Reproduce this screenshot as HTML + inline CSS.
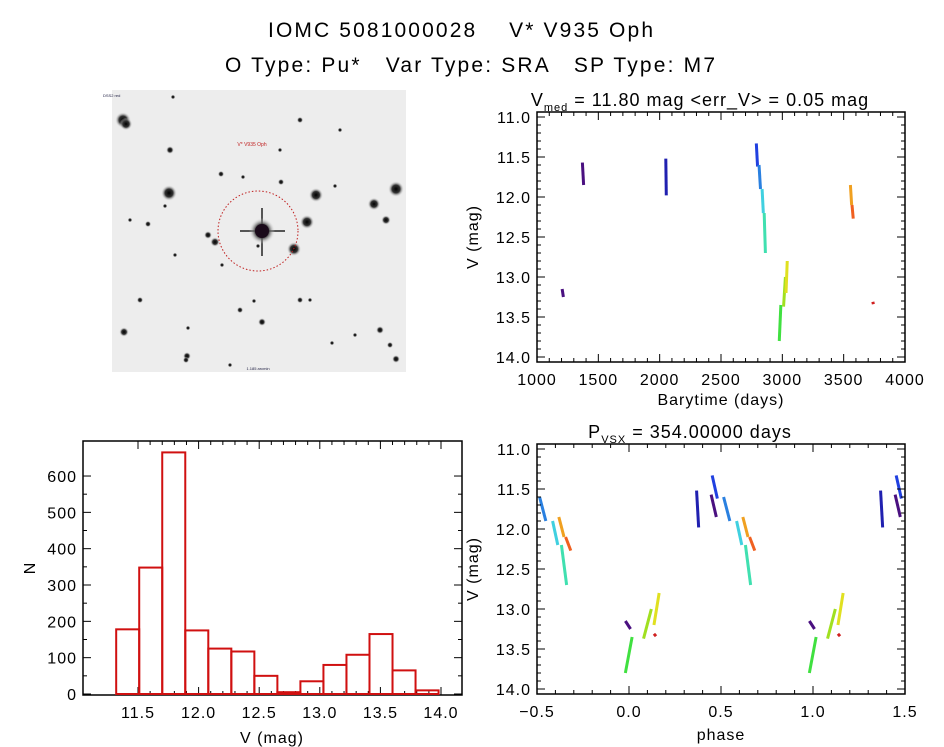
<!DOCTYPE html>
<html><head><meta charset="utf-8"><style>
body{margin:0;background:#fff;}
svg{display:block;font-family:"Liberation Sans",sans-serif;}
</style></head><body>
<svg id="root" width="944" height="747" viewBox="0 0 944 747" xmlns="http://www.w3.org/2000/svg">
<defs>
<radialGradient id="sg"><stop offset="0" stop-color="#000"/><stop offset="0.5" stop-color="#333"/><stop offset="1" stop-color="#eee" stop-opacity="0"/></radialGradient>
</defs>
<text x="268" y="37" font-size="21" textLength="385" lengthAdjust="spacing" xml:space="preserve">IOMC 5081000028    V* V935 Oph</text>
<text x="225" y="72" font-size="21" textLength="490" lengthAdjust="spacing" xml:space="preserve">O Type: Pu*   Var Type: SRA   SP Type: M7</text>
<g id="img">
<rect x="112" y="90" width="294" height="282" fill="#ededed"/>
</g>
<g id="lc"></g>
<g id="ph"></g>
<g id="hist"></g>
</svg>
<script>
// ---- data ----
const clusterT1 = [1205,1370,2050,2788,2810,2835,2852,2975,3010,3030,3555,3568,3738];
const clusterT2 = [1215,1380,2054,2798,2822,2845,2862,2988,3025,3040,3565,3578,3742];
const clusterM1 = [13.15,11.57,11.52,11.33,11.60,11.90,12.20,13.80,13.37,13.20,11.85,12.10,13.31];
const clusterM2 = [13.25,11.85,11.98,11.62,11.90,12.20,12.70,13.35,13.00,12.80,12.10,12.27,13.34];
const period = 354.0;
const epoch = 1920.0;
const histEdges0 = 11.32, histWidth = 0.19;
const histCounts = [178,348,665,175,125,117,50,5,35,80,108,165,65,10];
const lcXTicks = [1000,1500,2000,2500,3000,3500,4000];
const magTicks = [11.0,11.5,12.0,12.5,13.0,13.5,14.0];
const phTicks = [-0.5,0.0,0.5,1.0,1.5];
const histXTicks = [11.5,12.0,12.5,13.0,13.5,14.0];
const histYTicks = [0,100,200,300,400,500,600];
const clusterColors = ['#4a1080','#4a1080','#2020b0','#2040e0','#2a80e0','#40d0e0','#40e0b0','#40e040','#a0e020','#e0e020','#f0a020','#f06020','#d02020'];

const NS='http://www.w3.org/2000/svg';
function el(tag,attrs,parent){const e=document.createElementNS(NS,tag);for(const k in attrs)e.setAttribute(k,attrs[k]);parent.appendChild(e);return e;}

// ---- sky image ----
const img=document.getElementById('img');
const stars=[[123,120,5],[126,124,4],[169,193,5],[170,150,2.5],[221,174,2],[215,242,3],[208,235,2.5],[307,222,4.5],[316,195,4.5],[396,189,5],[374,204,4],[386,220,3],[294,249,4.5],[124,332,3],[187,356,2.5],[186,360,2],[262,322,2.5],[300,300,2],[380,330,2.5],[396,359,2.5],[173,97,1.5],[148,224,2],[243,177,1.5],[281,182,2],[335,186,1.5],[258,246,1.5],[165,206,1.5],[240,310,2],[254,301,1.5],[332,343,1.5],[188,328,1.5],[300,120,2],[340,130,1.5],[280,150,1.5],[310,300,1.5],[140,300,2],[355,335,1.5],[230,365,1.5],[390,345,2],[222,265,1.5],[175,255,1.5],[130,220,1.5]];
stars.forEach(s=>{const c=el('circle',{cx:s[0],cy:s[1],r:s[2]*1.6,fill:'url(#sg)'},img);

});
el('line',{x1:262,y1:208,x2:262,y2:256,stroke:'#555','stroke-width':2},img);
el('line',{x1:240,y1:231,x2:285,y2:231,stroke:'#555','stroke-width':2},img);
const tgt=el('circle',{cx:262,cy:231,r:13,fill:'url(#sg)'},img);


el('circle',{cx:262,cy:231,r:7,fill:'#1a0a1a'},img);
const ring=el('circle',{cx:258,cy:231,r:40,fill:'none',stroke:'#c02020','stroke-width':1,'stroke-dasharray':'1.5 2'},img);


el('text',{x:252,y:146,'font-size':5,fill:'#c02020','text-anchor':'middle'},img).textContent='V* V935 Oph';
el('text',{x:103,y:97,'font-size':4,fill:'#224'},img).textContent='DSS2 red';
el('text',{x:258,y:370,'font-size':4,fill:'#224','text-anchor':'middle'},img).textContent='1.185 arcmin';

// ---- generic axes ----
function axes(g,x0,x1,y0,y1,xs,ys,xt,yt,xminor,yminor,xfmt,yfmt){
  el('rect',{x:x0,y:y0,width:x1-x0,height:y1-y0,fill:'none',stroke:'#000','stroke-width':1.5},g);
  xt.forEach(v=>{const x=xs(v);
    el('line',{x1:x,y1:y1,x2:x,y2:y1-8,stroke:'#000'},g);el('line',{x1:x,y1:y0,x2:x,y2:y0+8,stroke:'#000'},g);
    const t=el('text',{x:x,y:y1+23,'text-anchor':'middle','font-size':16,'letter-spacing':1},g);t.textContent=xfmt(v);
    
    });
  for(let i=0;i<xt.length-1;i++)for(let k=1;k<xminor;k++){const x=xs(xt[i]+(xt[i+1]-xt[i])*k/xminor);
    el('line',{x1:x,y1:y1,x2:x,y2:y1-4,stroke:'#000'},g);el('line',{x1:x,y1:y0,x2:x,y2:y0+4,stroke:'#000'},g);}
  yt.forEach(v=>{const y=ys(v);
    el('line',{x1:x0,y1:y,x2:x0+8,y2:y,stroke:'#000'},g);el('line',{x1:x1,y1:y,x2:x1-8,y2:y,stroke:'#000'},g);
    const t=el('text',{x:x0-6,y:y+6,'text-anchor':'end','font-size':16,'letter-spacing':1},g);t.textContent=yfmt(v);
    
    });
  for(let i=0;i<yt.length-1;i++)for(let k=1;k<yminor;k++){const y=ys(yt[i]+(yt[i+1]-yt[i])*k/yminor);
    el('line',{x1:x0,y1:y,x2:x0+4,y2:y,stroke:'#000'},g);el('line',{x1:x1,y1:y,x2:x1-4,y2:y,stroke:'#000'},g);}
}
function label(g,x,y,txt,name,rot,size){const t=el('text',{x:x,y:y,'text-anchor':'middle','font-size':size||16,'letter-spacing':1},g);
  if(rot)t.setAttribute('transform','rotate(-90 '+x+' '+y+')');t.textContent=txt;
  
  return t;}

// ---- light curve ----
const lc=document.getElementById('lc');
const lcX=t=>537+(t-1000)/3000*368, magY1=m=>117+(m-11)/3*240;
clusterT1.forEach((t,i)=>{const l=el('line',{x1:lcX(t),y1:magY1(clusterM1[i]),x2:lcX(clusterT2[i]),y2:magY1(clusterM2[i]),stroke:clusterColors[i],'stroke-width':3},lc);
  
  });
axes(lc,537,905,112,362,lcX,magY1,lcXTicks,magTicks,5,5,v=>v,v=>v.toFixed(1));
const tt=label(lc,700,106,'','lc-title',false,18);
tt.innerHTML='V<tspan font-size="11" dy="5">med</tspan><tspan dy="-5"> = 11.80 mag &lt;err_V&gt; = 0.05 mag</tspan>';
label(lc,721,405,'Barytime (days)','x-axis-title');
label(lc,478,237,'V (mag)','y-axis-title',true);

// ---- phase plot ----
const ph=document.getElementById('ph');
const phX=p=>537+(p+0.5)/2*368, magY2=m=>449+(m-11)/3*240;
clusterT1.forEach((t,i)=>{const p1=((t-epoch)/period%1+1)%1;const p2=p1+(clusterT2[i]-t)/period;
  [-1,0,1].forEach(o=>{const a=p1+o,b=p2+o;if(b<-0.5||a>1.5)return;
    const l=el('line',{x1:phX(a),y1:magY2(clusterM1[i]),x2:phX(b),y2:magY2(clusterM2[i]),stroke:clusterColors[i],'stroke-width':3},ph);
    
    });});
el('rect',{x:905.8,y:440,width:38,height:260,fill:'#fff'},ph);
el('rect',{x:490,y:440,width:46,height:260,fill:'#fff'},ph);
axes(ph,537,905,444,694,phX,magY2,phTicks,magTicks,5,5,v=>v.toFixed(1).replace('-','\u2212'),v=>v.toFixed(1));
const pt=label(ph,690,438,'','phase-title',false,18);
pt.innerHTML='P<tspan font-size="11" dy="5">VSX</tspan><tspan dy="-5"> = 354.00000 days</tspan>';
label(ph,721,740,'phase','x-axis-title');
label(ph,478,569,'V (mag)','y-axis-title',true);

// ---- histogram ----
const hg=document.getElementById('hist');
const hX=v=>138+(v-11.5)/0.5*60.6, hY=n=>694-n*0.3633;
axes(hg,83,462,441,695,hX,hY,histXTicks,histYTicks,5,2,v=>v.toFixed(1),v=>v);
histCounts.forEach((c,i)=>{const a=histEdges0+i*histWidth;
  const r=el('rect',{x:hX(a),y:hY(c),width:hX(a+histWidth)-hX(a),height:694-hY(c),fill:'none',stroke:'#d01010','stroke-width':2},hg);
  
  });
label(hg,272,743,'V (mag)','x-axis-title');
label(hg,35,568,'N','y-axis-title',true);
</script>
</body></html>
